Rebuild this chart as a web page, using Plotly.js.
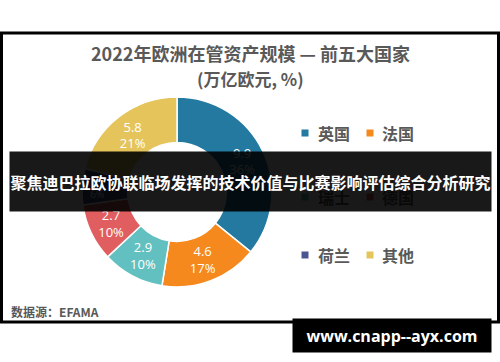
<!DOCTYPE html>
<html>
<head>
<meta charset="utf-8">
<script src="https://cdn.plot.ly/plotly-3.0.1.min.js"></script>
<style>html,body{margin:0;padding:0;background:#fff;}#chart{width:500px;height:362px;}</style>
</head>
<body>
<div id="chart"></div>
<script>
const categories = ['英国', '法国', '瑞士', '德国', '荷兰', '其他'];
const values = [9.9, 4.6, 2.9, 2.7, 1.7, 5.8];
const percents = ['36%', '17%', '10%', '10%', '6%', '21%'];
const colors = ['#23799f', '#f5891e', '#63c0c0', '#e05e60', '#4b5690', '#e5c55b'];
const titleLine1 = '2022年欧洲在管资产规模 — 前五大国家';
const titleLine2 = '(万亿欧元, %)';
const sourceText = '数据源：EFAMA';
const bannerText = '聚焦迪巴拉欧协联临场发挥的技术价值与比赛影响评估综合分析研究';
const watermarkText = 'www.cnapp--ayx.com';

const W = 500, H = 362;
const px = x => x / W;
const py = y => 1 - y / H;
const CJK = '"Noto Sans CJK SC", "Noto Sans", sans-serif';

const trace = {
  type: 'pie',
  labels: categories,
  values: values,
  text: values.map((v, i) => v.toFixed(1) + '<br>' + percents[i]),
  textinfo: 'text',
  textposition: 'inside',
  insidetextorientation: 'horizontal',
  hole: 0.52,
  sort: false,
  direction: 'clockwise',
  rotation: 0,
  marker: { colors: colors, line: { color: '#ffffff', width: 1.5 } },
  textfont: { family: '"Open Sans", "Noto Sans", sans-serif', size: 13, color: '#ffffff' },
  domain: { x: [px(82), px(272)], y: [py(287), py(97)] },
  showlegend: false,
  hoverinfo: 'none'
};

const shapes = [
  { type: 'rect', xref: 'paper', yref: 'paper', x0: px(1.5), x1: px(498.5), y0: py(322), y1: py(33),
    line: { color: '#000000', width: 3 }, fillcolor: 'rgba(0,0,0,0)', layer: 'below' }
];
const annotations = [];

const legendRows = [133, 197, 255];
const legendCols = [{ m: 305, t: 316 }, { m: 370, t: 380 }];
categories.forEach((c, i) => {
  const row = legendRows[Math.floor(i / 2)];
  const col = legendCols[i % 2];
  shapes.push({ type: 'rect', xref: 'paper', yref: 'paper',
    x0: px(col.m - 3.5), x1: px(col.m + 3.5), y0: py(row + 3.5), y1: py(row - 3.5),
    fillcolor: colors[i], line: { width: 0 } });
  annotations.push({ xref: 'paper', yref: 'paper', x: px(col.t), y: py(row), xanchor: 'left', yanchor: 'middle',
    text: '<b>' + c + '</b>', showarrow: false, font: { family: CJK, size: 16, color: '#595959' } });
});

annotations.push({ xref: 'paper', yref: 'paper', x: px(250), y: py(53), xanchor: 'center', yanchor: 'middle',
  text: '<b>' + titleLine1 + '</b>', showarrow: false, font: { family: CJK, size: 18, color: '#595959' } });
annotations.push({ xref: 'paper', yref: 'paper', x: px(250), y: py(79), xanchor: 'center', yanchor: 'middle',
  text: '<b>' + titleLine2 + '</b>', showarrow: false, font: { family: CJK, size: 17, color: '#595959' } });
annotations.push({ xref: 'paper', yref: 'paper', x: px(9), y: py(311), xanchor: 'left', yanchor: 'middle',
  text: '<b>' + sourceText + '</b>', showarrow: false, font: { family: CJK, size: 12, color: '#595959' } });

annotations.push({ xref: 'paper', yref: 'paper', x: px(250.5), y: py(181.5), xanchor: 'center', yanchor: 'middle',
  text: '<b>' + bannerText + '</b>', showarrow: false, width: 481, height: 59, borderpad: 0,
  bgcolor: 'rgba(0,0,0,0.9)', font: { family: CJK, size: 16, color: '#ffffff' } });
annotations.push({ xref: 'paper', yref: 'paper', x: px(392), y: py(335.5), xanchor: 'center', yanchor: 'middle',
  text: '<b>' + watermarkText + '</b>', showarrow: false, width: 198, height: 33, borderpad: 0,
  bgcolor: '#000000', font: { family: '"Open Sans", "Noto Sans", sans-serif', size: 16, color: '#ffffff' } });

const layout = {
  width: W, height: H,
  margin: { l: 0, r: 0, t: 0, b: 0 },
  paper_bgcolor: '#ffffff',
  showlegend: false,
  shapes: shapes,
  annotations: annotations
};

Plotly.newPlot('chart', [trace], layout, { staticPlot: true, displayModeBar: false });
</script>
</body>
</html>
